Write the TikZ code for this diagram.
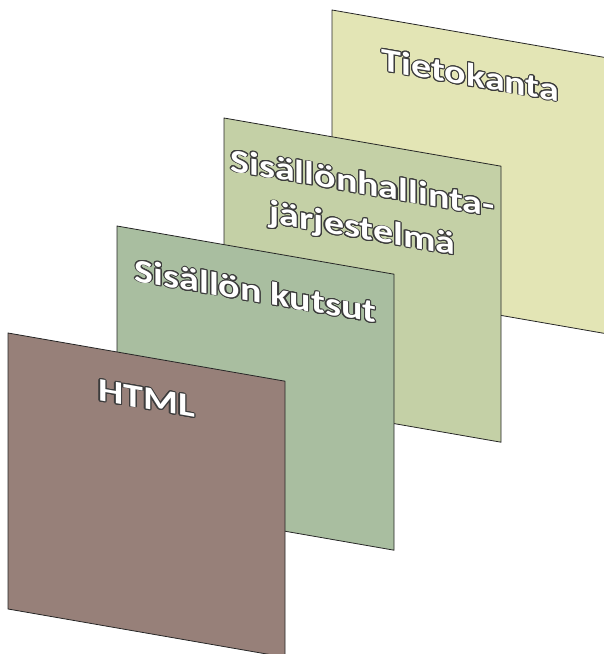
\documentclass[tikz,border=0pt]{standalone}
\usepackage{fontspec}
\setmainfont{Carlito}
\usepackage[copies]{contour}
\contourlength{1.1pt}
\definecolor{tietoC}{HTML}{E3E5B5}
\definecolor{halliC}{HTML}{C4D0A6}
\definecolor{kutsuC}{HTML}{A9BEA0}
\definecolor{htmlC}{HTML}{978079}
\definecolor{edgeC}{HTML}{3C3C3C}
\newcommand{\outl}[1]{\contour{edgeC}{#1}}

\begin{document}
\begin{tikzpicture}[x=1pt, y=1pt,
  panel/.style={draw=black!85, line width=0.8pt},
  paneltext/.style={text=white, font=\bfseries\fontsize{40}{55}\selectfont,
    align=center, anchor=base, transform shape, yscale=0.82}]
  \useasboundingbox (0,0) rectangle (604,654);
  % panels from back to front, \ty = baseline of the last line
  \foreach \nm/\px/\py/\ty/\col/\txt in {tieto/332/10/52/tietoC/\outl{Tietokanta},
      halli/224/118/97/halliC/{\outl{Sisällönhallinta-}\\\outl{järjestelmä}},
      kutsu/117/226/52/kutsuC/\outl{Sisällön kutsut},
      html/8/333/52/htmlC/\outl{HTML}}{
    \begin{scope}[shift={(\px,654-\py)}, yslant=-0.174]
      \draw[panel, fill=\col] (0,0) rectangle (277,-276);
      \node[paneltext] (\nm) at (138.5,-\ty) {\txt};
    \end{scope}
  }
\end{tikzpicture}
\end{document}
